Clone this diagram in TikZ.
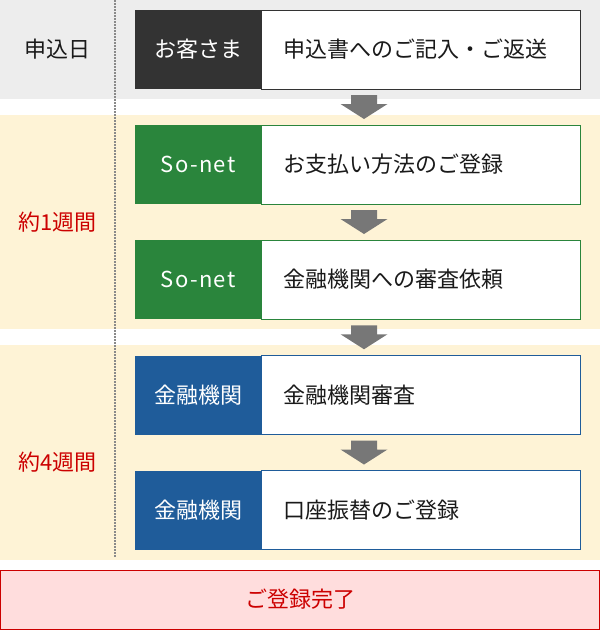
\documentclass[tikz,border=0pt]{standalone}
\usepackage{fontspec}
\setmainfont{Noto Sans CJK JP}
\newfontfamily\sonetfont[LetterSpace=6]{Noto Sans CJK JP}
\usetikzlibrary{calc}
\definecolor{graybg}{HTML}{EDEDED}
\definecolor{yellowbg}{HTML}{FEF3D6}
\definecolor{darktag}{HTML}{333333}
\definecolor{greentag}{HTML}{2A853C}
\definecolor{bluetag}{HTML}{1F5C9A}
\definecolor{arrowgray}{HTML}{777777}
\definecolor{dotgray}{HTML}{8A8A8A}
\definecolor{bodytext}{HTML}{1A1A1A}
\definecolor{redtext}{HTML}{CC0000}
\definecolor{pinkbg}{HTML}{FFDDDD}
\tikzset{
  jp/.style={font=\fontsize{22pt}{26pt}\selectfont},
  tagbox/.style={jp, text=white, minimum width=126pt, minimum height=79pt, inner sep=0pt, anchor=west},
  sonettag/.style={tagbox, fill=greentag, font=\sonetfont\fontsize{22pt}{26pt}\selectfont},
  bodybox/.style={jp, text=bodytext, fill=white, line width=1pt, minimum height=79pt, inner xsep=22pt, inner ysep=0pt,
    text width=275pt, align=left, anchor=west},
  sidelabel/.style={jp, text=bodytext},
  periodlabel/.style={jp, text=redtext},
  donebox/.style={jp, text=redtext, fill=pinkbg, draw=redtext, line width=1pt, minimum width=599pt, minimum height=59pt},
  downarrow/.pic={\fill[arrowgray] (-13,-12) -- (13,-12) -- (13,-3) -- (23.5,-3) -- (0,12) -- (-23.5,-3) -- (-13,-3) -- cycle;}
}
\begin{document}
\begin{tikzpicture}[x=1pt,y=-1pt]
\useasboundingbox (0,0) rectangle (600,630);
% bands
\fill[graybg] (0,0) rectangle (600,99);
\fill[yellowbg] (0,115) rectangle (600,329);
\fill[yellowbg] (0,345) rectangle (600,560);
% dotted divider
\draw[dotgray, line width=1.5pt, dash pattern=on 1.5pt off 1.5pt] (115,0) -- (115,558);
% side labels
\node[sidelabel] (l1) at (57.5,49.5) {申込日};
\node[periodlabel] (l2) at (57.5,222) {約1週間};
\node[periodlabel] (l3) at (57.5,462.5) {約4週間};
% rows
\node[bodybox, draw=darktag] (b1) at (261,49.5) {申込書へのご記入・ご返送};
\node[tagbox, fill=darktag] (t1) at (135,49.5) {お客さま};
\node[bodybox, draw=greentag] (b2) at (261,164.5) {お支払い方法のご登録};
\node[sonettag] (t2) at (135,164.5) {So-net};
\node[bodybox, draw=greentag] (b3) at (261,279.5) {金融機関への審査依頼};
\node[sonettag] (t3) at (135,279.5) {So-net};
\node[bodybox, draw=bluetag] (b4) at (261,395) {金融機関審査};
\node[tagbox, fill=bluetag] (t4) at (135,395) {金融機関};
\node[bodybox, draw=bluetag] (b5) at (261,510) {口座振替のご登録};
\node[tagbox, fill=bluetag] (t5) at (135,510) {金融機関};
% final
\node[donebox] (done) at (300,599.5) {ご登録完了};
% arrows
\pic at ([xshift=-57pt]$(b1.south)!0.5!(b2.north)$) {downarrow};
\pic at ([xshift=-57pt]$(b2.south)!0.5!(b3.north)$) {downarrow};
\pic at ([xshift=-57pt]$(b3.south)!0.5!(b4.north)$) {downarrow};
\pic at ([xshift=-57pt]$(b4.south)!0.5!(b5.north)$) {downarrow};
\end{tikzpicture}
\end{document}
